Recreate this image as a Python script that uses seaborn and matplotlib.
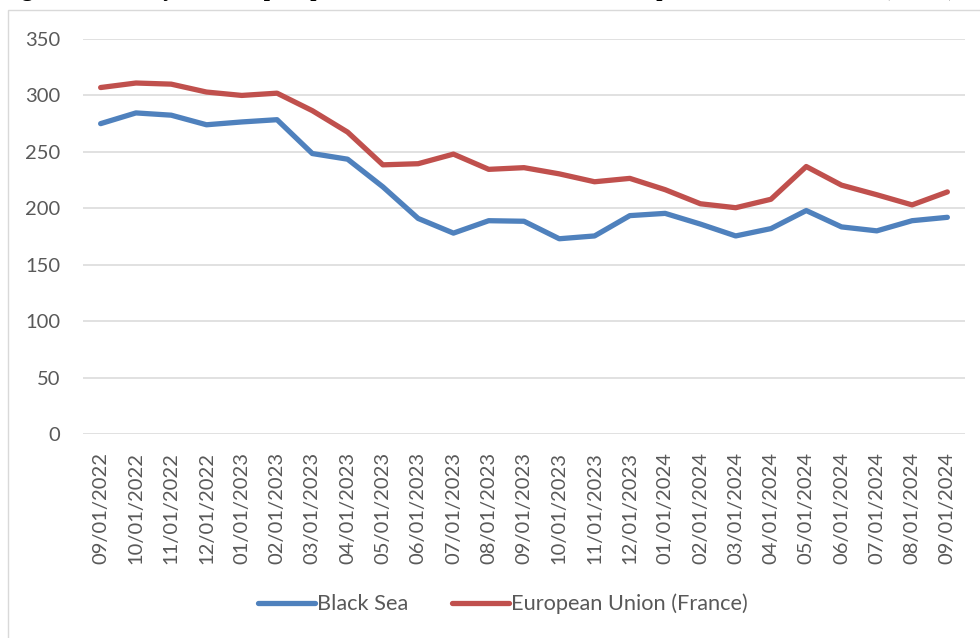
import matplotlib
matplotlib.use("Agg")
import matplotlib.pyplot as plt
import matplotlib.patches as mpatches
import seaborn as sns
import pandas as pd

dates = ["09/01/2022", "10/01/2022", "11/01/2022", "12/01/2022", "01/01/2023",
         "02/01/2023", "03/01/2023", "04/01/2023", "05/01/2023", "06/01/2023",
         "07/01/2023", "08/01/2023", "09/01/2023", "10/01/2023", "11/01/2023",
         "12/01/2023", "01/01/2024", "02/01/2024", "03/01/2024", "04/01/2024",
         "05/01/2024", "06/01/2024", "07/01/2024", "08/01/2024", "09/01/2024"]
black_sea = [275, 284.5, 282.5, 274, 276.5, 278.5, 248.5, 243.5, 219, 191,
             178, 189, 188.5, 173, 175.5, 193.5, 195.5, 186, 175.5, 182,
             198, 183.5, 180, 189, 192]
eu_france = [307, 311, 310, 303, 300, 302, 286.5, 267.5, 238.5, 239.5,
             248, 234.5, 236, 230.5, 223.5, 226.5, 216.5, 204, 200.5, 208,
             237, 220.5, 212, 203, 214.5]
series_names = ["Black Sea", "European Union (France)"]
title_text = ("Figure 1. Monthly wheat export prices in the Black Sea and the "
              "European Union, 2022\u20132024 (USD/t)")

df = pd.DataFrame({
    "date": dates * 2,
    "price": black_sea + eu_france,
    "series": [series_names[0]] * len(dates) + [series_names[1]] * len(dates),
})

sns.set_theme(style="white")
plt.rcParams["font.family"] = ["Lato", "DejaVu Sans"]

W, H = 980, 638
fig = plt.figure(figsize=(W / 100, H / 100), dpi=100)
ax = fig.add_axes([83 / W, 1 - 434 / H, (965 - 83) / W, (434 - 39) / H])

palette = {series_names[0]: "#4F81BD", series_names[1]: "#C0504D"}
sns.lineplot(data=df, x="date", y="price", hue="series", palette=palette,
             linewidth=3.8, ax=ax, sort=False, legend=True)
for ln in ax.lines:
    ln.set_solid_capstyle("round")
    ln.set_solid_joinstyle("round")

ax.set_xlim(-0.5, len(dates) - 0.5)
ax.set_ylim(0, 350)
ax.set_yticks(range(0, 351, 50))
ax.yaxis.grid(True, color="#D9D9D9", linewidth=1.1)
ax.xaxis.grid(False)
for s in ax.spines.values():
    s.set_visible(False)
ax.set_xlabel("")
ax.set_ylabel("")
ax.tick_params(axis="both", length=0, labelsize=14.5, labelcolor="#595959")
ax.tick_params(axis="y", pad=16.5)
ax.tick_params(axis="x", pad=13)
plt.setp(ax.get_xticklabels(), rotation=90, va="top", ha="center")

handles, labels = ax.get_legend_handles_labels()
leg = ax.legend(handles, labels, loc="center", bbox_to_anchor=(503 / W, 1 - 604 / H),
                bbox_transform=fig.transFigure, ncol=2, frameon=False,
                fontsize=15.7, handlelength=2.6, handletextpad=0.12,
                columnspacing=2.0, labelcolor="#595959")
for h in leg.get_lines():
    h.set_linewidth(3.8)
    h.set_solid_capstyle("round")

# chart border
fig.patches.append(mpatches.Rectangle((8 / W, -0.1), 1.2, 1 - 10 / H + 0.1,
                                      transform=fig.transFigure, fill=False,
                                      edgecolor="#D9D9D9", linewidth=1.0))

# title above the chart, clipped by the top edge as in the source
fig.text(2 / W, 1 + 4 / H, title_text, ha="left", va="baseline",
         fontsize=16, fontweight="bold", family="Liberation Serif", color="black")

fig.savefig("out.png", dpi=100)
